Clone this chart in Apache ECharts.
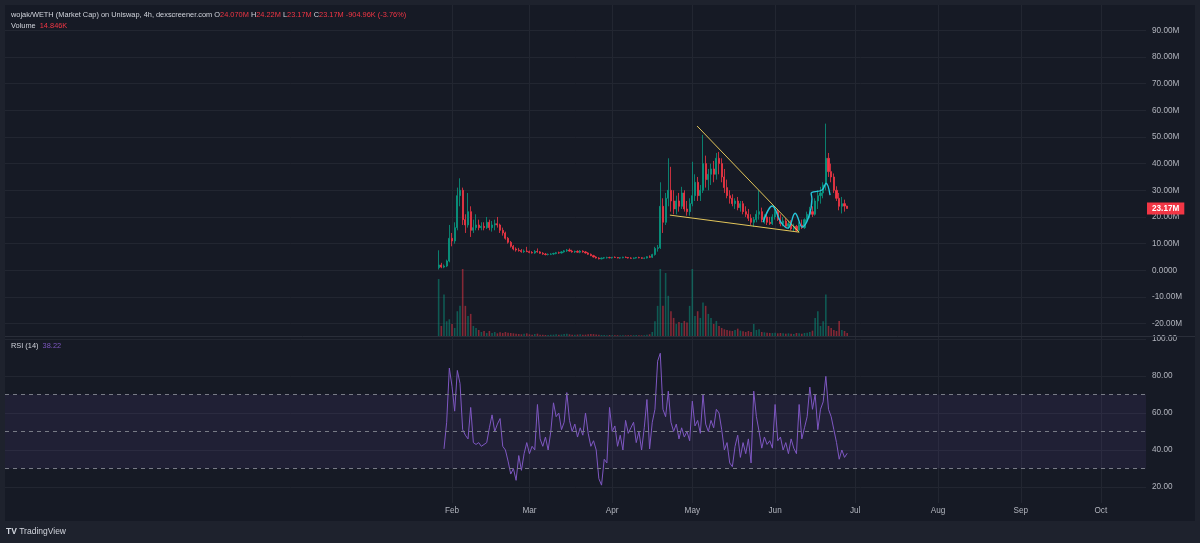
<!DOCTYPE html>
<html>
<head>
<meta charset="utf-8">
<title>wojak/WETH</title>
<script src="https://cdn.jsdelivr.net/npm/echarts@6.0.0/dist/echarts.min.js"></script>
<style>
  html, body { margin: 0; padding: 0; background: #1e222d; }
  #chart { width: 1200px; height: 543px; }
</style>
</head>
<body>
<div id="chart"></div>
<script>
// one candle per day, market cap in millions
var firstDay = '2024-01-27';
var opens = [
  1.0, 2.0, 1.2, 1.6, 3.5, 12, 11, 16, 28, 30,
  19, 17, 22, 15, 16, 17, 16, 16.5, 16, 18,
  16, 17, 17.5, 17, 15, 14, 12, 10.5, 9, 8,
  7.6, 7.4, 7, 7.2, 7.0, 6.7, 6.5, 7.1, 6.9, 6.4,
  6.1, 5.9, 6.0, 6.1, 6.3, 6.6, 6.5, 6.9, 7.3, 7.6,
  7.2, 6.9, 7.1, 6.8, 7.2, 6.9, 6.5, 6.0, 5.5, 5.0,
  4.6, 4.3, 4.6, 4.7, 4.8, 4.7, 4.9, 4.8, 4.6, 4.7,
  4.9, 4.8, 4.6, 4.5, 4.6, 4.8, 4.7, 4.5, 4.6, 5.1,
  4.9, 5.9, 8.2, 8.5, 24, 18, 27, 30, 26, 23,
  26, 24, 29, 23, 22, 25, 28, 33, 28, 30,
  40, 34, 36, 38, 36, 42, 40, 35, 31, 28,
  27, 25, 26, 23.5, 25, 22, 21, 19.5, 18, 19,
  21, 22, 19, 20, 18, 17.5, 20, 22, 19, 17.5,
  18.5, 16.5, 17.5, 15.5, 16.5, 15, 17, 16, 19, 21,
  22, 21, 26, 28, 29, 32, 42, 37, 35, 30,
  27, 24, 25, 24.07
];
var highs = [
  7.5, 2.8, 2.2, 4.0, 17, 14, 18, 31, 34.5, 31,
  21, 29, 24, 19, 21, 19, 18, 18, 20, 19,
  18.5, 19, 20, 17.5, 16, 14.5, 12.5, 11, 9.5, 8.6,
  8.4, 8, 7.8, 8.8, 7.4, 7.2, 7.6, 8.2, 7.2, 6.8,
  6.5, 6.3, 6.4, 6.6, 6.9, 7.0, 7.2, 7.6, 8.0, 8.2,
  7.7, 7.4, 7.5, 7.6, 7.5, 7.2, 6.8, 6.3, 5.8, 5.3,
  4.9, 4.8, 5.0, 5.1, 5.1, 5.0, 5.2, 5.0, 4.9, 5.1,
  5.2, 5.0, 4.9, 4.8, 5.0, 5.1, 4.9, 4.8, 5.3, 5.6,
  6.2, 8.8, 9.5, 33, 27, 29, 42, 38.8, 30, 28,
  29, 31.3, 30, 26, 27, 40.7, 36, 35, 32, 50.8,
  43, 38, 40, 41, 44, 44.4, 42, 38, 34, 30,
  28.5, 27, 27.5, 26, 26, 24, 23, 21, 20, 22.5,
  30, 23.5, 21, 21, 20, 21, 23.8, 23, 21, 20,
  19.5, 18.5, 18.8, 17.5, 17, 18, 19, 19.5, 22, 23.8,
  24, 27, 30, 31.3, 33, 55, 44, 40, 36.3, 31.5,
  29, 27.5, 26.5, 24.22
];
var lows = [
  0.3, 0.8, 0.8, 1.2, 3.0, 9, 10, 15, 24, 17,
  14, 16, 12.5, 14, 15, 15, 15, 15, 15.5, 15,
  14.5, 15, 16, 14, 13, 11.5, 10, 8.5, 7.5, 7,
  7, 6.6, 6.5, 6.8, 6.4, 6.3, 6.2, 6.6, 6.2, 5.8,
  5.6, 5.6, 5.7, 5.8, 6.0, 6.2, 6.3, 6.6, 6.9, 7.0,
  6.6, 6.5, 6.6, 6.4, 6.6, 6.3, 5.8, 5.3, 4.8, 4.4,
  4.1, 4.1, 4.3, 4.4, 4.5, 4.4, 4.6, 4.5, 4.3, 4.5,
  4.6, 4.4, 4.3, 4.2, 4.4, 4.5, 4.3, 4.2, 4.4, 4.7,
  4.6, 5.5, 7.0, 8.0, 14, 17, 24, 22, 21, 21,
  22, 23, 22, 20.5, 20.5, 24, 26, 26, 26, 29,
  31, 30, 32, 33, 34, 36, 33, 29, 27, 25,
  24, 23, 22.5, 22, 21, 20, 18.5, 17, 16.3, 18,
  19, 18, 17.5, 17, 17, 17, 19, 18.5, 16.5, 16.5,
  16, 15.5, 15, 14.5, 14.4, 14.4, 15.5, 15.5, 18, 19.5,
  20, 20.5, 23, 25, 27, 30, 35, 33, 29, 26,
  22.5, 21.3, 22, 23.17
];
var closes = [
  2.0, 1.2, 1.6, 3.5, 12, 11, 16, 28, 30, 19,
  17, 22, 15, 16, 17, 16, 16.5, 16, 18, 16,
  17, 17.5, 17, 15, 14, 12, 10.5, 9, 8, 7.6,
  7.4, 7, 7.2, 7.0, 6.7, 6.5, 7.1, 6.9, 6.4, 6.1,
  5.9, 6.0, 6.1, 6.3, 6.6, 6.5, 6.9, 7.3, 7.6, 7.2,
  6.9, 7.1, 6.8, 7.2, 6.9, 6.5, 6.0, 5.5, 5.0, 4.6,
  4.3, 4.6, 4.7, 4.8, 4.7, 4.9, 4.8, 4.6, 4.7, 4.9,
  4.8, 4.6, 4.5, 4.6, 4.8, 4.7, 4.5, 4.6, 5.1, 4.9,
  5.9, 8.2, 8.5, 24, 18, 27, 30, 26, 23, 26,
  24, 29, 23, 22, 25, 28, 33, 28, 30, 40,
  34, 36, 38, 36, 42, 40, 35, 31, 28, 27,
  25, 26, 23.5, 25, 22, 21, 19.5, 18, 19, 21,
  22, 19, 20, 18, 17.5, 20, 22, 19, 17.5, 18.5,
  16.5, 17.5, 15.5, 16.5, 15, 17, 16, 19, 21, 22,
  21, 26, 28, 29, 32, 42, 37, 35, 30, 27,
  24, 25, 24.07, 23.17
];
// daily volume, K
var volumes = [
  850, 150, 620, 220, 250, 180, 120, 370, 450, 1000,
  450, 300, 330, 150, 120, 90, 60, 75, 45, 75,
  45, 60, 40, 55, 45, 60, 50, 45, 40, 35,
  30, 25, 35, 40, 25, 20, 30, 35, 20, 18,
  15, 15, 18, 20, 25, 20, 22, 30, 35, 25,
  20, 18, 22, 25, 18, 20, 25, 30, 28, 22,
  20, 15, 15, 12, 15, 12, 10, 12, 10, 12,
  10, 12, 10, 12, 15, 12, 10, 12, 20, 25,
  60, 220, 450, 1000, 450, 940, 600, 370, 270, 180,
  210, 195, 225, 200, 450, 1000, 300, 370, 270, 500,
  450, 330, 270, 180, 225, 150, 120, 100, 90, 80,
  75, 90, 110, 80, 70, 60, 75, 60, 180, 90,
  100, 60, 55, 50, 45, 45, 50, 40, 45, 40,
  35, 40, 35, 30, 45, 40, 35, 45, 50, 60,
  80, 270, 370, 150, 220, 620, 150, 120, 90, 75,
  225, 90, 75, 45
];
var rsiValues = [
  null, null, 40.6, 55, 84.3, 74.5, 61, 83, 76, 51,
  48, 46, 63, 44, 43, 44, 42, 43, 44, 52,
  59, 50, 54, 57, 42, 40, 34, 27, 30, 23.6,
  37, 29, 38, 44, 38, 42, 40, 64.6, 46, 42,
  47, 40, 50, 65.5, 58, 60, 51, 55, 71, 56,
  50, 54, 47, 52, 48, 60, 49, 42, 45, 40,
  24.5, 21, 35, 33, 63, 50, 53, 42, 48, 40,
  56, 49, 52, 55, 44, 50, 40, 52, 67.3, 40.6,
  55, 62, 88, 92.3, 62, 58, 71.8, 55, 50, 54,
  46, 52, 47, 50, 45, 66.4, 53, 56, 49, 70,
  54, 50, 56, 52, 62, 60, 51, 40, 44, 33,
  31, 42, 48, 36, 44, 38, 46, 33, 71.8, 58,
  50, 41, 47, 43, 45, 41, 64.6, 45, 47, 40,
  44, 38, 46, 41, 38, 64.6, 46, 52, 58, 74,
  62, 70, 51, 62, 66, 79.8, 62, 58, 51, 44,
  35, 40, 36, 38.22
];

var monthTicks = ['2024-02-01', '2024-03-01', '2024-04-01', '2024-05-01', '2024-06-01',
  '2024-07-01', '2024-08-01', '2024-09-01', '2024-10-01'];
var monthLabels = ['Feb', 'Mar', 'Apr', 'May', 'Jun', 'Jul', 'Aug', 'Sep', 'Oct'];
var priceTicks = [-20, -10, 0, 10, 20, 30, 40, 50, 60, 70, 80, 90];
var priceTickLabels = ['-20.00M', '-10.00M', '0.0000', '10.00M', '20.00M', '30.00M',
  '40.00M', '50.00M', '60.00M', '70.00M', '80.00M', '90.00M'];
var rsiTicks = [20, 40, 60, 80, 100];
var rsiTickLabels = ['20.00', '40.00', '60.00', '80.00', '100.00'];
var rsiLevels = [70, 50, 30];

// drawings on the chart
var upperTrend = [['2024-05-02 19:00', 54.1], ['2024-06-10 00:00', 14.3]];
var lowerTrend = [['2024-04-22 14:00', 20.7], ['2024-06-10 00:00', 14.3]];
var cyanPath = [
  ['2024-05-27 12:00', 18.0], ['2024-05-30 22:00', 24.1], ['2024-06-03 05:00', 18.0],
  ['2024-06-05 19:00', 15.8], ['2024-06-08 12:00', 21.4], ['2024-06-11 02:00', 16.2],
  ['2024-06-14 19:00', 26.7], ['2024-06-14 12:00', 28.9], ['2024-06-18 14:00', 30.1],
  ['2024-06-20 02:00', 32.7], ['2024-06-21 14:00', 28.2]
];
var lastPrice = 23.17;

// x axis is counted in days from 1 Feb 2024
var DAY = 864e5;
function toTime(s) {
  var p = s.split(/[- :]/).map(Number);
  return Date.UTC(p[0], p[1] - 1, p[2], p[3] || 0, p[4] || 0);
}
var feb1 = toTime('2024-02-01');
function toDay(s) { return (toTime(s) - feb1) / DAY; }
var d0 = toDay(firstDay);
var days = opens.map(function (_, i) { return d0 + i; });
var monthDays = monthTicks.map(toDay);
var xMin = -167.4, xMax = 259.9;

var UP = '#089981', DOWN = '#f23645';
var gridColor = '#222631';
var labelColor = '#b2b5be';
var font = 'Liberation Sans, Arial, sans-serif';

function lookup(ticks, labels) {
  return function (v) {
    for (var i = 0; i < ticks.length; i++) {
      if (Math.abs(ticks[i] - v) < 1e-6) return labels[i];
    }
    return '';
  };
}
function toPts(arr) {
  return arr.map(function (p) { return [toDay(p[0]), p[1]]; });
}

var candleData = days.map(function (d, i) {
  return [d, opens[i], closes[i], lows[i], highs[i]];
});
var volumeData = days.map(function (d, i) {
  return {
    value: [d, volumes[i]],
    itemStyle: { color: closes[i] >= opens[i] ? 'rgba(8,153,129,0.5)' : 'rgba(242,54,69,0.5)' }
  };
});
var rsiData = [];
days.forEach(function (d, i) {
  if (rsiValues[i] != null) rsiData.push([d, rsiValues[i]]);
});

var xAxes = [0, 1, 2].map(function (g) {
  return {
    type: 'value', gridIndex: g, min: xMin, max: xMax,
    axisLine: { show: false },
    axisTick: { show: false, customValues: monthDays },
    axisLabel: {
      show: g === 2, customValues: monthDays, formatter: lookup(monthDays, monthLabels),
      color: labelColor, fontSize: 8.2, fontFamily: font, margin: 4
    },
    splitLine: { show: g !== 1, lineStyle: { color: gridColor, width: 1 } }
  };
});

var option = {
  animation: false,
  backgroundColor: '#1e222d',
  grid: [
    { left: 5, right: 54, top: 5, height: 331 },
    { left: 5, right: 54, top: 269, height: 67 },
    { left: 5, right: 54, top: 337, height: 166 }
  ],
  xAxis: xAxes,
  yAxis: [
    {
      type: 'value', gridIndex: 0, position: 'right', min: -24.63, max: 99.47,
      axisLine: { show: false },
      axisTick: { show: false, customValues: priceTicks },
      axisLabel: {
        customValues: priceTicks, formatter: lookup(priceTicks, priceTickLabels),
        color: labelColor, fontSize: 8.2, fontFamily: font, margin: 6
      },
      splitLine: { lineStyle: { color: gridColor, width: 1 } }
    },
    {
      type: 'value', gridIndex: 1, min: 0, max: 1000,
      axisLine: { show: false }, axisTick: { show: false },
      axisLabel: { show: false }, splitLine: { show: false }
    },
    {
      type: 'value', gridIndex: 2, position: 'right', min: 11.35, max: 101.08,
      axisLine: { show: false },
      axisTick: { show: false, customValues: rsiTicks },
      axisLabel: {
        customValues: rsiTicks, formatter: lookup(rsiTicks, rsiTickLabels),
        color: labelColor, fontSize: 8.2, fontFamily: font, margin: 6
      },
      splitLine: { lineStyle: { color: gridColor, width: 1 } }
    }
  ],
  series: [
    {
      type: 'bar', name: 'Volume', xAxisIndex: 1, yAxisIndex: 1,
      data: volumeData, barWidth: 1.6, z: 1
    },
    {
      type: 'candlestick', name: 'wojak/WETH', xAxisIndex: 0, yAxisIndex: 0,
      data: candleData, encode: { x: 0, y: [1, 2, 3, 4] },
      barWidth: 1.6,
      itemStyle: { color: UP, color0: DOWN, borderColor: UP, borderColor0: DOWN, borderWidth: 0.8 },
      markLine: {
        silent: true, symbol: 'none',
        data: [{ yAxis: lastPrice }],
        lineStyle: { color: 'rgba(0,0,0,0)', width: 1, type: 'solid' },
        label: {
          show: true, position: 'end', distance: 1,
          formatter: lastPrice.toFixed(2) + 'M',
          backgroundColor: DOWN, color: '#ffffff', fontWeight: 'bold',
          fontSize: 8.2, fontFamily: font, padding: [2, 5, 2, 5]
        }
      }
    },
    {
      type: 'line', xAxisIndex: 0, yAxisIndex: 0, data: toPts(upperTrend),
      symbol: 'none', lineStyle: { color: '#e3c65a', width: 1 }, z: 5
    },
    {
      type: 'line', xAxisIndex: 0, yAxisIndex: 0, data: toPts(lowerTrend),
      symbol: 'none', lineStyle: { color: '#e3c65a', width: 1 }, z: 5
    },
    {
      type: 'line', xAxisIndex: 0, yAxisIndex: 0, data: toPts(cyanPath),
      symbol: 'none', smooth: 0.4, lineStyle: { color: '#26c6da', width: 1.4 }, z: 5
    },
    {
      type: 'line', name: 'RSI', xAxisIndex: 2, yAxisIndex: 2, data: rsiData,
      symbol: 'none', lineStyle: { color: '#7e57c2', width: 1 },
      markArea: {
        silent: true,
        itemStyle: { color: 'rgba(126,87,194,0.10)' },
        data: [[{ yAxis: 30 }, { yAxis: 70 }]]
      },
      markLine: {
        silent: true, symbol: 'none', label: { show: false },
        lineStyle: { color: '#787b86', type: [4, 4], width: 1 },
        data: rsiLevels.map(function (v) { return { yAxis: v }; })
      }
    }
  ],
  graphic: [
    {
      type: 'rect', z: -10, silent: true,
      shape: { x: 5, y: 5, width: 1190, height: 516 },
      style: { fill: '#161a25' }
    },
    {
      type: 'line', silent: true, z: 10,
      shape: { x1: 5, y1: 336.5, x2: 1195, y2: 336.5 },
      style: { stroke: '#2a2e39', lineWidth: 1 }
    },
    {
      type: 'text', x: 11, y: 15, z: 10,
      style: {
        text: 'wojak/WETH (Market Cap) on Uniswap, 4h, dexscreener.com O{r|24.070M} H{r|24.22M} L{r|23.17M} C{r|23.17M} {r|-904.96K (-3.76%)}',
        fill: '#d1d4dc', fontSize: 7.4, fontFamily: font, verticalAlign: 'middle',
        rich: { r: { fill: DOWN, fontSize: 7.4, fontFamily: font } }
      }
    },
    {
      type: 'text', x: 11, y: 26, z: 10,
      style: {
        text: 'Volume  {r|14.846K}',
        fill: '#d1d4dc', fontSize: 7.4, fontFamily: font, verticalAlign: 'middle',
        rich: { r: { fill: DOWN, fontSize: 7.4, fontFamily: font } }
      }
    },
    {
      type: 'text', x: 11, y: 346, z: 10,
      style: {
        text: 'RSI (14)  {p|38.22}',
        fill: '#d1d4dc', fontSize: 7.4, fontFamily: font, verticalAlign: 'middle',
        rich: { p: { fill: '#7e57c2', fontSize: 7.4, fontFamily: font } }
      }
    },
    {
      type: 'text', x: 6, y: 532, z: 10,
      style: {
        text: '{b|TV} TradingView',
        fill: '#d1d4dc', fontSize: 8.5, fontFamily: font, verticalAlign: 'middle',
        rich: { b: { fill: '#d1d4dc', fontSize: 8.5, fontWeight: 'bold', fontFamily: font } }
      }
    }
  ]
};

var chart = echarts.init(document.getElementById('chart'));
chart.setOption(option);
window.onresize = function () { chart.resize(); };
</script>
</body>
</html>
